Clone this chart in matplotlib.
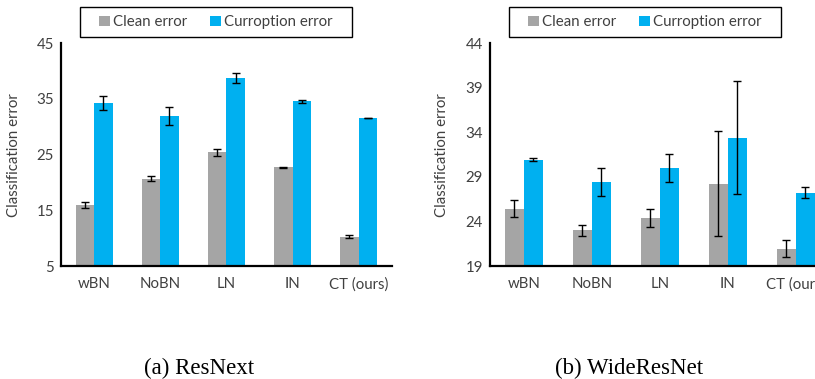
import matplotlib.pyplot as plt
import matplotlib.patches as mpatches
import numpy as np

# data
categories = ["wBN", "NoBN", "LN", "IN", "CT (ours)"]

resnext_clean = [16.0, 20.7, 25.4, 22.7, 10.25]
resnext_clean_err = [0.55, 0.4, 0.6, 0.05, 0.25]
resnext_corr = [34.25, 31.9, 38.7, 34.55, 31.6]
resnext_corr_err = [1.3, 1.6, 0.9, 0.2, 0.05]

wrn_clean = [25.45, 23.0, 24.35, 28.25, 20.95]
wrn_clean_err = [0.93, 0.63, 1.0, 5.9, 0.97]
wrn_corr = [30.95, 28.45, 30.0, 33.4, 27.25]
wrn_corr_err = [0.17, 1.57, 1.6, 6.35, 0.58]

resnext_ticks = [5, 15, 25, 35, 45]
wrn_ticks = [19, 24, 29, 34, 39, 44]

gray = "#A5A5A5"
blue = "#00B0F0"
tick_font = "Lato"
fs = 10.8

W, H = 815, 379
fig = plt.figure(figsize=(8.15, 3.79), dpi=100)
ax1 = fig.add_axes([0.0748, 0.298, 0.406, 0.588])
ax2 = fig.add_axes([0.601, 0.298, 0.417, 0.588])


def draw(ax, clean, clean_err, corr, corr_err, ticks, box):
    x = np.arange(len(categories))
    w = 0.28
    ax.bar(x - w / 2, clean, w, color=gray, label="Clean error",
           yerr=clean_err, error_kw=dict(ecolor="black", elinewidth=1, capsize=3, capthick=1))
    ax.bar(x + w / 2, corr, w, color=blue, label="Curroption error",
           yerr=corr_err, error_kw=dict(ecolor="black", elinewidth=1, capsize=3, capthick=1))
    ax.set_xlim(-0.5, len(categories) - 0.5)
    ax.set_ylim(ticks[0], ticks[-1])
    ax.set_yticks(ticks)
    ax.set_xticks(x)
    ax.set_xticklabels(categories)
    for s in ["top", "right"]:
        ax.spines[s].set_visible(False)
    for s in ["left", "bottom"]:
        ax.spines[s].set_linewidth(1.6)
        ax.spines[s].set_color("black")
    ax.tick_params(length=0, labelsize=fs, colors="#404040", pad=5)
    ax.tick_params(axis="x", pad=8)
    for t in ax.get_xticklabels() + ax.get_yticklabels():
        t.set_fontfamily(tick_font)
    ax.set_ylabel("Classification error", fontsize=fs, color="#404040", fontfamily=tick_font)
    ax.yaxis.set_label_coords(-0.12, 0.5)

    # legend box drawn as its own rectangle (pixel box from the reference)
    x0, y0, x1, y1 = box
    fig.patches.append(mpatches.Rectangle((x0 / W, 1 - y1 / H), (x1 - x0) / W, (y1 - y0) / H,
                                          transform=fig.transFigure, fill=False,
                                          edgecolor="black", linewidth=1.0))
    ax.legend(loc="center", bbox_to_anchor=((x0 + x1) / 2 / W, 1 - (y0 + y1) / 2 / H),
              bbox_transform=fig.transFigure, ncol=2, frameon=False,
              handlelength=0.7, handleheight=0.7, handletextpad=0.25, columnspacing=1.5,
              borderpad=0.2, prop={"family": tick_font, "size": fs}, labelcolor="#404040")


draw(ax1, resnext_clean, resnext_clean_err, resnext_corr, resnext_corr_err, resnext_ticks,
     (80, 7, 352, 37))
draw(ax2, wrn_clean, wrn_clean_err, wrn_corr, wrn_corr_err, wrn_ticks,
     (509, 7, 781, 37))

fig.text(199 / W, 1 - 368 / H, "(a) ResNext", ha="center", va="center",
         fontsize=16.5, fontfamily="Liberation Serif")
fig.text(629 / W, 1 - 368 / H, "(b) WideResNet", ha="center", va="center",
         fontsize=16.5, fontfamily="Liberation Serif")

fig.savefig("out.png", dpi=100)
